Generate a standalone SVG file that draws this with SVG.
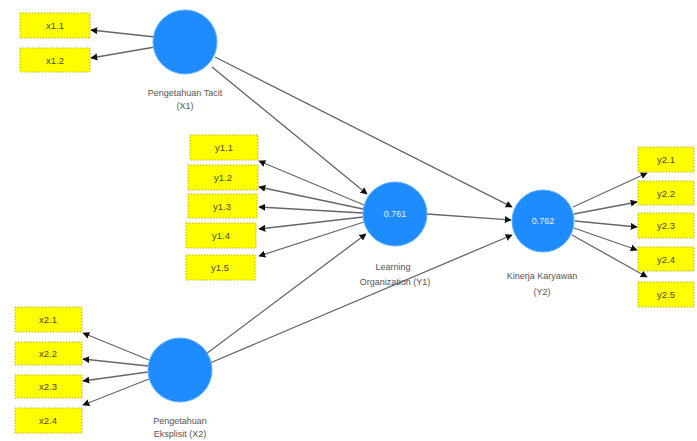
<svg xmlns="http://www.w3.org/2000/svg" width="697" height="441" viewBox="0 0 697 441">
<defs>
<marker id="ah" viewBox="0 0 10 10" refX="9" refY="5" markerWidth="7" markerHeight="7" orient="auto" markerUnits="userSpaceOnUse">
<path d="M0,0 L10,5 L0,10 z" fill="#111"/>
</marker>
<style>
.box{fill:#ffff00;stroke:#c8b400;stroke-width:1;stroke-dasharray:1.5 1.5}
.bt{font-family:"Liberation Sans",Arial,sans-serif;font-size:9.5px;fill:#4a4a20;text-anchor:middle}
.lv{fill:#1e8cff;stroke:#5fb0ff;stroke-width:1}
.lt{font-family:"Liberation Sans",Arial,sans-serif;font-size:9px;fill:#555;text-anchor:middle}
.vt{font-family:"Liberation Sans",Arial,sans-serif;font-size:9px;fill:#e8f2ff;text-anchor:middle}
.cn line{stroke:#666;stroke-width:1.3;marker-end:url(#ah)}
</style>
</defs>
<rect width="697" height="441" fill="#fff"/>

<g id="connectors" class="cn">
<line x1="155" y1="37" x2="91" y2="30"/>
<line x1="155" y1="47" x2="91" y2="58"/>
<line x1="212" y1="67" x2="367" y2="194"/>
<line x1="215" y1="57" x2="512" y2="207"/>
<line x1="364" y1="205" x2="259" y2="161"/>
<line x1="363" y1="209" x2="259" y2="187"/>
<line x1="363" y1="213" x2="259" y2="207"/>
<line x1="363" y1="217" x2="259" y2="229"/>
<line x1="364" y1="222" x2="259" y2="256"/>
<line x1="206" y1="354" x2="366" y2="234"/>
<line x1="210" y1="363" x2="512" y2="235"/>
<line x1="427" y1="214" x2="511" y2="220"/>
<line x1="573" y1="207" x2="647" y2="173"/>
<line x1="574" y1="214" x2="637" y2="202"/>
<line x1="575" y1="221" x2="637" y2="227"/>
<line x1="574" y1="228" x2="637" y2="250"/>
<line x1="572" y1="235" x2="647" y2="277"/>
<line x1="149" y1="360" x2="83" y2="333"/>
<line x1="148" y1="366" x2="83" y2="359"/>
<line x1="148" y1="372" x2="83" y2="381"/>
<line x1="149" y1="379" x2="83" y2="405"/>
</g>

<g id="X1">
<circle class="lv" cx="185" cy="42" r="32"/>
<text class="lt" x="185" y="96">Pengetahuan Tacit</text>
<text class="lt" x="185" y="109">(X1)</text>
</g>
<g id="x1_1"><rect class="box" x="20" y="13" width="70" height="25"/><text class="bt" x="55" y="29">x1.1</text></g>
<g id="x1_2"><rect class="box" x="20" y="48" width="70" height="24"/><text class="bt" x="55" y="64">x1.2</text></g>

<g id="Y1">
<circle class="lv" cx="395" cy="214" r="32"/>
<text class="vt" x="395" y="217">0.761</text>
<text class="lt" x="393" y="270">Learning</text>
<text class="lt" x="395" y="285">Organization (Y1)</text>
</g>
<g id="y1_1"><rect class="box" x="190" y="135" width="68" height="25"/><text class="bt" x="224" y="151">y1.1</text></g>
<g id="y1_2"><rect class="box" x="188" y="165" width="70" height="25"/><text class="bt" x="223" y="181">y1.2</text></g>
<g id="y1_3"><rect class="box" x="188" y="194" width="69" height="24"/><text class="bt" x="222" y="210">y1.3</text></g>
<g id="y1_4"><rect class="box" x="186" y="223" width="70" height="25"/><text class="bt" x="221" y="239">y1.4</text></g>
<g id="y1_5"><rect class="box" x="186" y="255" width="69" height="25"/><text class="bt" x="220" y="271">y1.5</text></g>

<g id="Y2">
<circle class="lv" cx="543" cy="221" r="31"/>
<text class="vt" x="543" y="224">0.762</text>
<text class="lt" x="542" y="279">Kinerja Karyawan</text>
<text class="lt" x="542" y="295">(Y2)</text>
</g>
<g id="y2_1"><rect class="box" x="638" y="147" width="56" height="25"/><text class="bt" x="666" y="163">y2.1</text></g>
<g id="y2_2"><rect class="box" x="638" y="181" width="56" height="24"/><text class="bt" x="666" y="197">y2.2</text></g>
<g id="y2_3"><rect class="box" x="638" y="213" width="56" height="25"/><text class="bt" x="666" y="229">y2.3</text></g>
<g id="y2_4"><rect class="box" x="638" y="247" width="56" height="24"/><text class="bt" x="666" y="263">y2.4</text></g>
<g id="y2_5"><rect class="box" x="638" y="282" width="56" height="25"/><text class="bt" x="666" y="298">y2.5</text></g>

<g id="X2">
<circle class="lv" cx="180" cy="370" r="32"/>
<text class="lt" x="180" y="424">Pengetahuan</text>
<text class="lt" x="180" y="437">Eksplisit (X2)</text>
</g>
<g id="x2_1"><rect class="box" x="15" y="307" width="67" height="25"/><text class="bt" x="48" y="323">x2.1</text></g>
<g id="x2_2"><rect class="box" x="15" y="342" width="67" height="23"/><text class="bt" x="48" y="357">x2.2</text></g>
<g id="x2_3"><rect class="box" x="15" y="375" width="67" height="23"/><text class="bt" x="48" y="390">x2.3</text></g>
<g id="x2_4"><rect class="box" x="15" y="408" width="67" height="25"/><text class="bt" x="48" y="424">x2.4</text></g>
</svg>
